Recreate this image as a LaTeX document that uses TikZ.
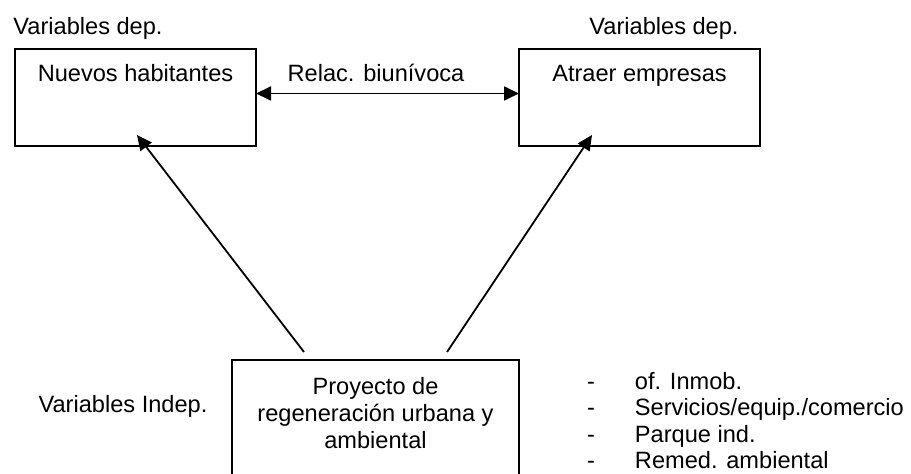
\documentclass[tikz,border=0pt]{standalone}
\usepackage{fontspec}
\setmainfont{Liberation Sans}
\usetikzlibrary{arrows.meta, calc}

\begin{document}
\begin{tikzpicture}[x=1pt, y=1pt, >={Triangle[length=15pt, width=14pt]}, line width=1.8pt,
  every node/.style={font=\fontsize{23.6pt}{27pt}\selectfont, inner sep=0pt, outer sep=0pt},
  box/.style={draw, minimum width=241pt, minimum height=97pt}]
  \useasboundingbox (0,0) rectangle (911,474);
  % dependent variables
  \node[box] (habitantes) at (135.5,376.5) {};
  \node[box] (empresas) at (639.5,376.5) {};
  \node[anchor=base] (habitantestxt) at ($(habitantes.north)+(0,-33)$) {Nuevos habitantes};
  \node[anchor=base] (empresastxt) at ($(empresas.north)+(0,-33)$) {Atraer empresas};
  \node[anchor=base] (depizq) at (88,439) {Variables dep.};
  \node[anchor=base] (depder) at (664,439) {Variables dep.};
  \node[anchor=base] (relac) at (376,392) {Relac. biunívoca};
  \draw[<->] ($(habitantes.east)+(0,4)$) -- ($(empresas.west)+(0,4)$);
  % independent variable
  \node[box, minimum width=287pt, minimum height=130pt, anchor=north] (proyecto) at (375.5,114) {};
  \node[anchor=north, align=center] (proyectotxt) at ($(proyecto.north)+(0,-17.8)$) {Proyecto de\\regeneración urbana y\\ambiental};
  \node[anchor=base] (indep) at (123,61) {Variables Indep.};
  \node[anchor=north west, align=left, font=\fontsize{23.6pt}{26.4pt}\selectfont] (componentes) at (587,101.5) {\makebox[48pt][l]{-}of. Inmob.\\\makebox[48pt][l]{-}Servicios/equip./comercio\\\makebox[48pt][l]{-}Parque ind.\\\makebox[48pt][l]{-}Remed. ambiental};
  \draw[->] ($(proyecto.north)+(-71.5,8)$) -- ($(habitantes.south)+(1.5,11)$);
  \draw[->] ($(proyecto.north)+(71.5,8)$) -- ($(empresas.south)+(-47.5,11)$);
\end{tikzpicture}
\end{document}
